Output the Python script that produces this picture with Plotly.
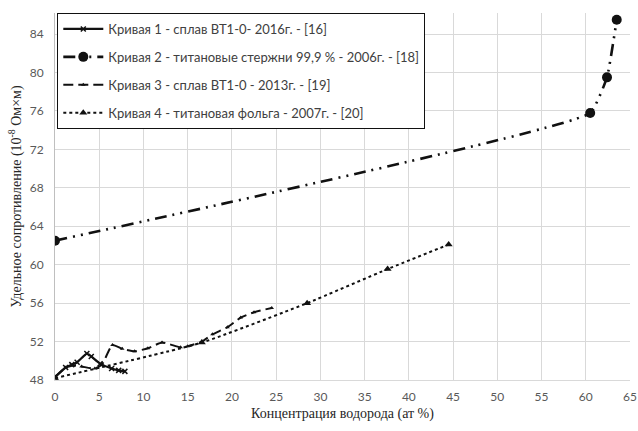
import plotly.graph_objects as go

# Curve 1 - сплав ВТ1-0 2016
c1_x = [0.0, 1.2, 1.9, 2.5, 3.6, 4.1, 5.1, 6.4, 7.2, 7.9]
c1_y = [48.3, 49.3, 49.6, 49.85, 50.75, 50.45, 49.7, 49.2, 49.0, 48.9]

# Curve 2 - титановые стержни 99,9 % 2006
c2_x = [0.0, 60.5, 62.4, 63.5]
c2_y = [62.5, 75.8, 79.5, 85.5]

# Curve 3 - сплав ВТ1-0 2013
c3_x = [0.0, 1.2, 2.0, 3.0, 4.5, 5.3, 6.5, 7.6, 9.0, 10.5, 12.1, 14.2, 15.0, 16.6, 17.8, 19.5, 21.0, 22.5, 24.5]
c3_y = [48.3, 49.3, 49.5, 49.4, 49.2, 49.6, 51.65, 51.25, 51.0, 51.3, 51.9, 51.4, 51.5, 52.0, 52.75, 53.5, 54.5, 55.05, 55.5]

# Curve 4 - титановая фольга 2007
c4_x = [0.0, 16.6, 28.5, 37.6, 44.5]
c4_y = [48.2, 51.9, 56.0, 59.55, 62.1]

names = [
    "Кривая 1 - сплав ВТ1-0- 2016г. - [16]",
    "Кривая 2 - титановые стержни 99,9 % - 2006г. - [18]",
    "Кривая 3 - сплав ВТ1-0 - 2013г. - [19]",
    "Кривая 4 - титановая фольга - 2007г. - [20]",
]

x_ticks = list(range(0, 70, 5))
y_ticks = list(range(48, 88, 4))

fig = go.Figure()

fig.add_trace(go.Scatter(
    x=c2_x, y=c2_y, name=names[1], mode="lines+markers", legendgroup="g2",
    line=dict(color="#111111", width=2.6, dash="12px,6px,2px,6px,2px,6px", shape="spline", smoothing=0.35),
    marker=dict(symbol="circle", size=10, color="#111111"),
    legendrank=2,
))
fig.add_trace(go.Scatter(
    x=c4_x, y=c4_y, name=names[3], mode="lines+markers", legendgroup="g4",
    line=dict(color="#111111", width=2, dash="dot", shape="spline", smoothing=0.5),
    marker=dict(symbol="triangle-up", size=7, color="#111111"),
    legendrank=4,
))
fig.add_trace(go.Scatter(
    x=c3_x, y=c3_y, name=names[2], mode="lines+markers", legendgroup="g3",
    line=dict(color="#111111", width=2, dash="10px,5px", shape="spline", smoothing=0.5),
    marker=dict(symbol="triangle-up", size=4, color="#111111"),
    legendrank=3,
))
fig.add_trace(go.Scatter(
    x=c1_x, y=c1_y, name=names[0], mode="lines+markers", legendgroup="g1",
    line=dict(color="#111111", width=2.2, shape="spline", smoothing=0.5),
    marker=dict(symbol="x-thin", size=5, color="#111111", line=dict(width=1.5, color="#111111")),
    legendrank=1,
))

fig.update_layout(
    width=638, height=431,
    margin=dict(l=55, r=8, t=13, b=51),
    paper_bgcolor="white", plot_bgcolor="white",
    font=dict(family="Lato, 'Open Sans', sans-serif", color="#595959", size=12),
    showlegend=True,
    legend=dict(
        x=0.004, y=1, xanchor="left", yanchor="top",
        bgcolor="white", bordercolor="#111111", borderwidth=1,
        font=dict(family="Lato, sans-serif", size=13, color="#404040"),
        tracegroupgap=8, traceorder="grouped",
        itemwidth=40,
    ),
    xaxis=dict(
        range=[0, 65], tickvals=x_ticks, ticktext=[str(v) for v in x_ticks],
        showgrid=True, gridcolor="#d9d9d9", gridwidth=1,
        zeroline=False, showline=True, linecolor="#d9d9d9",
        ticks="", ticklabelstandoff=6, automargin=False,
        title=dict(text="Концентрация водорода (ат %)", standoff=4,
                   font=dict(family="Liberation Serif, 'Times New Roman', serif", size=14, color="#262626")),
    ),
    yaxis=dict(
        range=[48, 86.2], tickvals=y_ticks, ticktext=[str(v) for v in y_ticks],
        showgrid=True, gridcolor="#d9d9d9", gridwidth=1,
        zeroline=False, showline=True, linecolor="#bfbfbf",
        ticks="", ticklabelstandoff=8, automargin=False,
        title=dict(text="Удельное сопротивление (10<sup>-8</sup> Ом×м)", standoff=4,
                   font=dict(family="Liberation Serif, 'Times New Roman', serif", size=14, color="#262626")),
    ),
)

fig.write_html("out.html", config={"displayModeBar": False},
               post_script="document.body.style.margin='0';")
